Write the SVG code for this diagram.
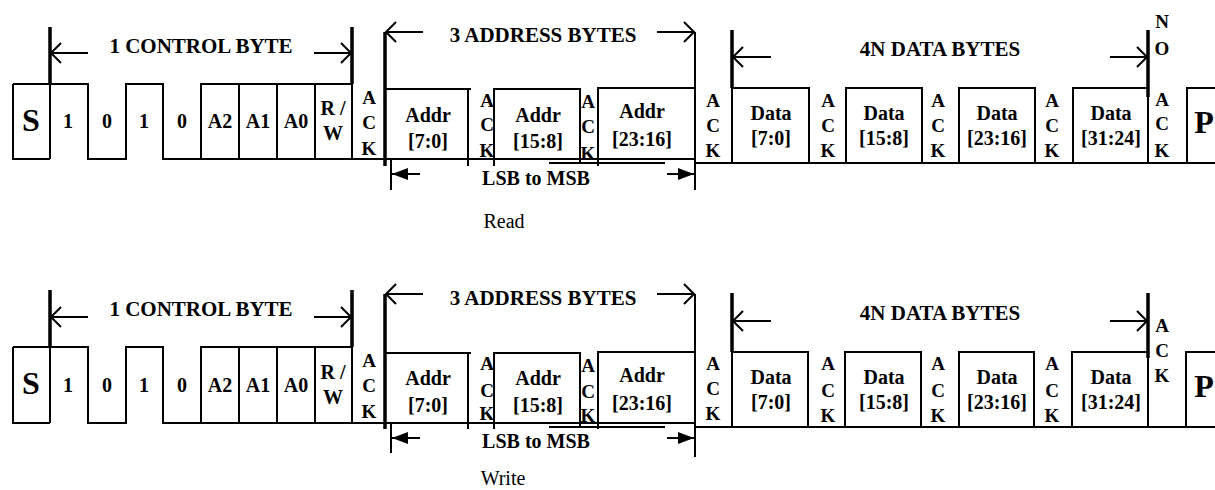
<svg xmlns="http://www.w3.org/2000/svg" width="1215" height="490" viewBox="0 0 1215 490">
<defs>
<marker id="open" viewBox="-12 -12 14 24" refX="0" refY="0" markerWidth="14" markerHeight="24" orient="auto" markerUnits="userSpaceOnUse">
<path d="M-10,-10 L0,0 L-10,10" fill="none" stroke="#000" stroke-width="2"/>
</marker>
<marker id="solid" viewBox="-18 -8 20 16" refX="0" refY="0" markerWidth="20" markerHeight="16" orient="auto" markerUnits="userSpaceOnUse">
<path d="M-16,-6 L0,0 L-16,6 Z" fill="#000"/>
</marker>
</defs>
<style>
.w{fill:none;stroke:#000;stroke-width:2}
.tk{fill:none;stroke:#000;stroke-width:3.5}
.ar{fill:none;stroke:#000;stroke-width:2;marker-end:url(#open)}
.sa{fill:none;stroke:#000;stroke-width:2;marker-end:url(#solid)}
text{font-family:"Liberation Serif","Times New Roman",serif;fill:#000}
.b{font-weight:bold;font-size:20px;text-anchor:middle}
.hd{font-weight:bold;font-size:21px;text-anchor:middle}
.ack{font-weight:bold;font-size:19px;text-anchor:middle}
.big{font-weight:bold;font-size:32px;text-anchor:middle}
.cap{font-size:20px;text-anchor:middle}
</style>
<rect width="1215" height="490" fill="#fff"/>

<g id="read">
<g id="read-signal">
<path class="w" d="M13,84 V159 H50 M13,84 H88 V159 H126 V84 H163 V159 H695 M50,84 V159 M201,159 V84 H352 V159 M239,84 V159 M277,84 V159 M315,84 V159"/>
<path class="w" d="M695,163 H1215"/>
</g>
<g id="read-S"><text class="big" x="31" y="131">S</text></g>
<g id="read-b7"><text class="b" x="68" y="128">1</text></g>
<g id="read-b6"><text class="b" x="107" y="128">0</text></g>
<g id="read-b5"><text class="b" x="144" y="128">1</text></g>
<g id="read-b4"><text class="b" x="182" y="128">0</text></g>
<g id="read-a2"><text class="b" x="220" y="128">A2</text></g>
<g id="read-a1"><text class="b" x="258" y="128">A1</text></g>
<g id="read-a0"><text class="b" x="296" y="128">A0</text></g>
<g id="read-rw"><text class="b" x="333" y="115">R /</text><text class="b" x="333" y="140">W</text></g>
<g id="read-ack1"><text class="ack" x="369" y="104">A</text><text class="ack" x="369" y="129">C</text><text class="ack" x="369" y="155">K</text></g>
<g id="read-addr0"><path class="w" d="M385,89 H471 M468,89 V166"/><text class="b" x="428" y="122">Addr</text><text class="b" x="428" y="148">[7:0]</text></g>
<g id="read-ack2"><text class="ack" x="487" y="107">A</text><text class="ack" x="487" y="131">C</text><text class="ack" x="487" y="157">K</text></g>
<g id="read-addr1"><path class="w" d="M494,166 V89 H580 V163"/><text class="b" x="538" y="122">Addr</text><text class="b" x="538" y="148">[15:8]</text></g>
<g id="read-ack3"><text class="ack" x="588" y="108">A</text><text class="ack" x="588" y="133">C</text><text class="ack" x="588" y="160">K</text></g>
<g id="read-addr2"><path class="w" d="M598,166 V88 H695 M549,163 H665"/><text class="b" x="642" y="118">Addr</text><text class="b" x="642" y="146">[23:16]</text></g>
<g id="read-ack4"><text class="ack" x="713" y="107">A</text><text class="ack" x="713" y="132">C</text><text class="ack" x="713" y="157">K</text></g>
<g id="read-data0"><path class="w" d="M732,163 V88 H809 V163"/><text class="b" x="771" y="120">Data</text><text class="b" x="771" y="145">[7:0]</text></g>
<g id="read-ack5"><text class="ack" x="828" y="107">A</text><text class="ack" x="828" y="132">C</text><text class="ack" x="828" y="157">K</text></g>
<g id="read-data1"><path class="w" d="M846,163 V88 H922 V163"/><text class="b" x="884" y="120">Data</text><text class="b" x="884" y="145">[15:8]</text></g>
<g id="read-ack6"><text class="ack" x="938" y="107">A</text><text class="ack" x="938" y="132">C</text><text class="ack" x="938" y="157">K</text></g>
<g id="read-data2"><path class="w" d="M959,163 V88 H1035 V163"/><text class="b" x="997" y="120">Data</text><text class="b" x="997" y="145">[23:16]</text></g>
<g id="read-ack7"><text class="ack" x="1052" y="107">A</text><text class="ack" x="1052" y="132">C</text><text class="ack" x="1052" y="157">K</text></g>
<g id="read-data3"><path class="w" d="M1073,163 V88 H1148 V163"/><text class="b" x="1111" y="120">Data</text><text class="b" x="1111" y="145">[31:24]</text></g>
<g id="read-noack"><text class="ack" x="1162" y="28">N</text><text class="ack" x="1162" y="55">O</text><text class="ack" x="1162" y="106">A</text><text class="ack" x="1162" y="130">C</text><text class="ack" x="1162" y="157">K</text></g>
<g id="read-P"><path class="w" d="M1187,163 V88 H1216"/><text class="big" x="1204" y="133">P</text></g>
<g id="read-connectors">
<path class="tk" d="M50,27 V84 M352,27 V84 M385,32 V166 M732,30 V88 M1148,30 V97"/>
<path class="w" d="M695,32 V190 M391,159 V190"/>
<path class="ar" d="M88,53 H51"/>
<path class="ar" d="M314,53 H351"/>
<path class="ar" d="M423,32 H386"/>
<path class="ar" d="M657,32 H694"/>
<path class="ar" d="M771,57 H733"/>
<path class="ar" d="M1110,57 H1147"/>
<path class="sa" d="M420,174 H392"/>
<path class="sa" d="M667,174 H694"/>
</g>
<g id="read-labels">
<text class="hd" x="201" y="53">1 CONTROL BYTE</text>
<text class="hd" x="543" y="42">3 ADDRESS BYTES</text>
<text class="hd" x="940" y="56">4N DATA BYTES</text>
<text class="b" x="536" y="185">LSB to MSB</text>
<text class="cap" x="504" y="228">Read</text>
</g>
</g>

<g id="write" transform="translate(0,263)">
<g id="write-signal">
<path class="w" d="M13,84 V160 H50 M13,84 H88 V160 H126 V84 H163 V160 H695 M50,84 V160 M201,160 V84 H352 V160 M239,84 V160 M277,84 V160 M315,84 V160"/>
<path class="w" d="M695,164 H1215"/>
</g>
<g id="write-S"><text class="big" x="31" y="131">S</text></g>
<g id="write-b7"><text class="b" x="68" y="129">1</text></g>
<g id="write-b6"><text class="b" x="107" y="129">0</text></g>
<g id="write-b5"><text class="b" x="144" y="129">1</text></g>
<g id="write-b4"><text class="b" x="182" y="129">0</text></g>
<g id="write-a2"><text class="b" x="220" y="129">A2</text></g>
<g id="write-a1"><text class="b" x="258" y="129">A1</text></g>
<g id="write-a0"><text class="b" x="296" y="129">A0</text></g>
<g id="write-rw"><text class="b" x="333" y="116">R /</text><text class="b" x="333" y="141">W</text></g>
<g id="write-ack1"><text class="ack" x="369" y="104">A</text><text class="ack" x="369" y="129">C</text><text class="ack" x="369" y="155">K</text></g>
<g id="write-addr0"><path class="w" d="M385,90 H471 M468,90 V166"/><text class="b" x="428" y="122">Addr</text><text class="b" x="428" y="149">[7:0]</text></g>
<g id="write-ack2"><text class="ack" x="487" y="107">A</text><text class="ack" x="487" y="134">C</text><text class="ack" x="487" y="157">K</text></g>
<g id="write-addr1"><path class="w" d="M494,166 V90 H580 V164"/><text class="b" x="538" y="122">Addr</text><text class="b" x="538" y="149">[15:8]</text></g>
<g id="write-ack3"><text class="ack" x="588" y="109">A</text><text class="ack" x="588" y="135">C</text><text class="ack" x="588" y="159">K</text></g>
<g id="write-addr2"><path class="w" d="M598,166 V89 H695 M549,164 H665"/><text class="b" x="642" y="119">Addr</text><text class="b" x="642" y="147">[23:16]</text></g>
<g id="write-ack4"><text class="ack" x="713" y="107">A</text><text class="ack" x="713" y="132">C</text><text class="ack" x="713" y="157">K</text></g>
<g id="write-data0"><path class="w" d="M732,164 V89 H808 V164"/><text class="b" x="771" y="121">Data</text><text class="b" x="771" y="146">[7:0]</text></g>
<g id="write-ack5"><text class="ack" x="828" y="107">A</text><text class="ack" x="828" y="134">C</text><text class="ack" x="828" y="159">K</text></g>
<g id="write-data1"><path class="w" d="M845,164 V89 H921 V164"/><text class="b" x="884" y="121">Data</text><text class="b" x="884" y="146">[15:8]</text></g>
<g id="write-ack6"><text class="ack" x="938" y="107">A</text><text class="ack" x="938" y="134">C</text><text class="ack" x="938" y="159">K</text></g>
<g id="write-data2"><path class="w" d="M959,164 V89 H1034 V164"/><text class="b" x="997" y="121">Data</text><text class="b" x="997" y="146">[23:16]</text></g>
<g id="write-ack7"><text class="ack" x="1052" y="107">A</text><text class="ack" x="1052" y="134">C</text><text class="ack" x="1052" y="159">K</text></g>
<g id="write-data3"><path class="w" d="M1072,164 V89 H1148 V164"/><text class="b" x="1111" y="121">Data</text><text class="b" x="1111" y="146">[31:24]</text></g>
<g id="write-ack8"><text class="ack" x="1162" y="69">A</text><text class="ack" x="1162" y="94">C</text><text class="ack" x="1162" y="119">K</text></g>
<g id="write-P"><path class="w" d="M1186,164 V89 H1216"/><text class="big" x="1204" y="134">P</text></g>
<g id="write-connectors">
<path class="tk" d="M50,27 V84 M352,27 V84 M385,31 V166 M732,30 V89 M1148,30 V95"/>
<path class="w" d="M695,31 V194 M391,160 V190"/>
<path class="ar" d="M88,54 H51"/>
<path class="ar" d="M314,54 H351"/>
<path class="ar" d="M423,31 H386"/>
<path class="ar" d="M657,31 H694"/>
<path class="ar" d="M771,58 H733"/>
<path class="ar" d="M1110,58 H1147"/>
<path class="sa" d="M420,175 H392"/>
<path class="sa" d="M667,175 H694"/>
</g>
<g id="write-labels">
<text class="hd" x="201" y="53">1 CONTROL BYTE</text>
<text class="hd" x="543" y="42">3 ADDRESS BYTES</text>
<text class="hd" x="940" y="57">4N DATA BYTES</text>
<text class="b" x="536" y="185">LSB to MSB</text>
<text class="cap" x="503" y="222">Write</text>
</g>
</g>
</svg>
